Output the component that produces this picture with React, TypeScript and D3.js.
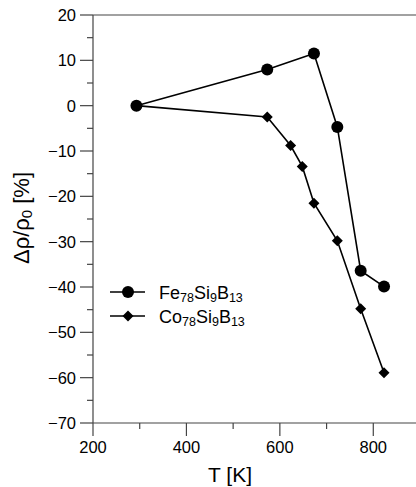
import React, { useEffect, useRef } from 'react';
import * as d3 from 'd3';

// temperatures [K] and relative resistivity change [%]
const feT = [293, 573, 673, 723, 773, 823];
const feVals = [0, 8, 11.5, -4.7, -36.4, -39.9];
const coT = [293, 573, 623, 648, 673, 723, 773, 823];
const coVals = [0, -2.5, -8.8, -13.4, -21.5, -29.8, -44.8, -58.9];
const xMajor = [200, 400, 600, 800];
const xMinor = [300, 500, 700];
const yMajor = [20, 10, 0, -10, -20, -30, -40, -50, -60, -70];
const yMinor = [15, 5, -5, -15, -25, -35, -45, -55, -65];

const App = () => {
  const svgRef = useRef<SVGSVGElement | null>(null);

  useEffect(() => {
    const W = 416, H = 487;
    const left = 93, top = 15, bottom = 423;
    const font = '"Liberation Sans", Arial, sans-serif';

    const svg = d3.select(svgRef.current);
    svg.selectAll('*').remove();

    const x = d3.scaleLinear().domain([200, 900]).range([left, 420]);
    const y = d3.scaleLinear().domain([-70, 20]).range([bottom, top]);
    const axisCol = '#444';

    // frame
    svg.append('line').attr('x1', left).attr('x2', W).attr('y1', top).attr('y2', top)
      .attr('stroke', axisCol).attr('stroke-width', 1.2);
    svg.append('line').attr('x1', left).attr('x2', W).attr('y1', bottom).attr('y2', bottom)
      .attr('stroke', axisCol).attr('stroke-width', 1.2);
    svg.append('line').attr('x1', left).attr('x2', left).attr('y1', top).attr('y2', bottom)
      .attr('stroke', axisCol).attr('stroke-width', 1.2);

    // x ticks
    svg.selectAll('.xmaj').data(xMajor).enter().append('line')
      .attr('x1', d => x(d)).attr('x2', d => x(d)).attr('y1', bottom).attr('y2', bottom + 13)
      .attr('stroke', axisCol).attr('stroke-width', 1.2);
    svg.selectAll('.xmin').data(xMinor).enter().append('line')
      .attr('x1', d => x(d)).attr('x2', d => x(d)).attr('y1', bottom).attr('y2', bottom + 6)
      .attr('stroke', axisCol).attr('stroke-width', 1.2);
    svg.selectAll('.xlab').data(xMajor).enter().append('text')
      .attr('x', d => x(d)).attr('y', bottom + 30).attr('text-anchor', 'middle')
      .attr('font-family', font).attr('font-size', 16.5).text(d => String(d));

    // y ticks
    svg.selectAll('.ymaj').data(yMajor).enter().append('line')
      .attr('x1', left - 13).attr('x2', left).attr('y1', d => y(d)).attr('y2', d => y(d))
      .attr('stroke', axisCol).attr('stroke-width', 1.2);
    svg.selectAll('.ymin').data(yMinor).enter().append('line')
      .attr('x1', left - 6).attr('x2', left).attr('y1', d => y(d)).attr('y2', d => y(d))
      .attr('stroke', axisCol).attr('stroke-width', 1.2);
    svg.selectAll('.ylab').data(yMajor).enter().append('text')
      .attr('x', left - 17).attr('y', d => y(d) + 6).attr('text-anchor', 'end')
      .attr('font-family', font).attr('font-size', 16.5)
      .text(d => (d < 0 ? '\u2212' + Math.abs(d) : String(d)));

    // axis titles
    svg.append('text').attr('x', 230).attr('y', 482).attr('text-anchor', 'middle')
      .attr('font-family', font).attr('font-size', 21).text('T [K]');
    const yt = svg.append('text').attr('transform', 'translate(29,218) rotate(-90)')
      .attr('text-anchor', 'middle').attr('font-family', font).attr('font-size', 22);
    yt.append('tspan').text('\u0394\u03c1/\u03c1');
    yt.append('tspan').attr('font-size', 15).attr('dy', 3).text('0');
    yt.append('tspan').attr('dy', -3).text(' [%]');

    const line = d3.line<[number, number]>().x(d => x(d[0])).y(d => y(d[1]));
    const fe = feT.map((t, i) => [t, feVals[i]] as [number, number]);
    const co = coT.map((t, i) => [t, coVals[i]] as [number, number]);

    svg.append('path').datum(fe).attr('d', line).attr('fill', 'none')
      .attr('stroke', '#000').attr('stroke-width', 1.6);
    svg.append('path').datum(co).attr('d', line).attr('fill', 'none')
      .attr('stroke', '#000').attr('stroke-width', 1.6);

    const diamond = (cx: number, cy: number, r: number) =>
      `M${cx},${cy - r}L${cx + r},${cy}L${cx},${cy + r}L${cx - r},${cy}Z`;

    svg.selectAll('.fe').data(fe).enter().append('circle')
      .attr('cx', d => x(d[0])).attr('cy', d => y(d[1])).attr('r', 6).attr('fill', '#000');
    svg.selectAll('.co').data(co).enter().append('path')
      .attr('d', d => diamond(x(d[0]), y(d[1]), 5.5)).attr('fill', '#000');

    // legend
    const leg = [
      { name: 'Fe', y: 292, marker: 'circle' },
      { name: 'Co', y: 316, marker: 'diamond' },
    ];
    leg.forEach(l => {
      svg.append('line').attr('x1', 110).attr('x2', 145).attr('y1', l.y).attr('y2', l.y)
        .attr('stroke', '#000').attr('stroke-width', 1.6);
      if (l.marker === 'circle') {
        svg.append('circle').attr('cx', 128).attr('cy', l.y).attr('r', 6).attr('fill', '#000');
      } else {
        svg.append('path').attr('d', diamond(128, l.y, 5.5)).attr('fill', '#000');
      }
      const t = svg.append('text').attr('x', 159).attr('y', l.y + 6.5)
        .attr('font-family', font).attr('font-size', 18);
      t.append('tspan').text(l.name);
      t.append('tspan').attr('font-size', 12.5).attr('dy', 3).text('78');
      t.append('tspan').attr('dy', -3).text('Si');
      t.append('tspan').attr('font-size', 12.5).attr('dy', 3).text('9');
      t.append('tspan').attr('dy', -3).text('B');
      t.append('tspan').attr('font-size', 12.5).attr('dy', 3).text('13');
    });

    svg.attr('width', W).attr('height', H);
  }, []);

  return (
    <svg
      ref={svgRef}
      width={416}
      height={487}
      style={{ position: 'absolute', left: 0, top: 0, background: '#fff' }}
    />
  );
};

export default App;
